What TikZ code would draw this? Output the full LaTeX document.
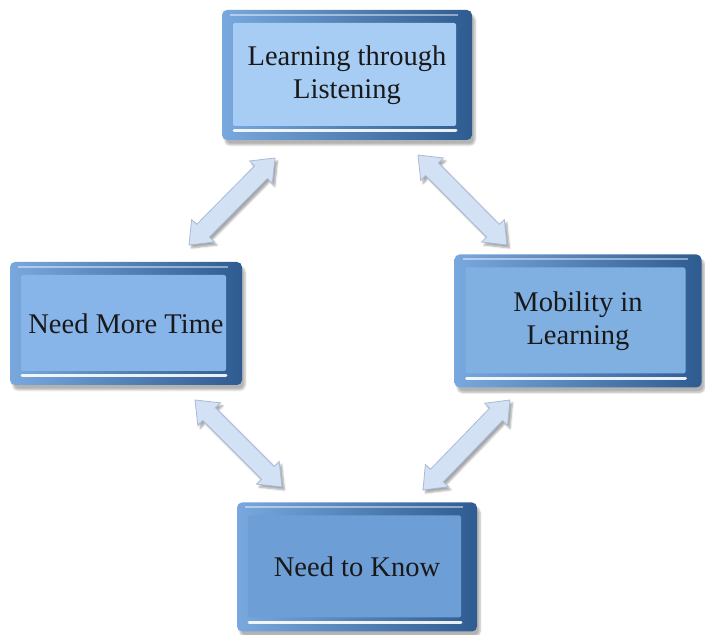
\documentclass[tikz,border=0pt]{standalone}
\usepackage{fontspec}
\setmainfont{Liberation Serif}
\usetikzlibrary{calc,shadows.blur}

\definecolor{edgeL}{HTML}{78A8DE}
\definecolor{edgeR}{HTML}{2F5C90}
\definecolor{faceA}{HTML}{A8CDF4}
\definecolor{faceB}{HTML}{88B5E9}
\definecolor{faceC}{HTML}{80AFE2}
\definecolor{faceD}{HTML}{6E9ED6}
\definecolor{arrowFill}{HTML}{D3E1F4}
\definecolor{arrowLine}{HTML}{A8BAD6}

\tikzset{
  bevelbox/.style={
    rounded corners=5pt, inner sep=0pt, align=center,
    font=\fontsize{28.5}{33}\selectfont, text=black!90,
    left color=edgeL, right color=edgeR,
    blur shadow={shadow xshift=3pt, shadow yshift=-5pt, shadow blur steps=6, shadow opacity=30},
    path picture={
      % raised face of the box
      \fill[#1, rounded corners=2pt]
        ([shift={(11pt,-13pt)}]path picture bounding box.north west) rectangle
        ([shift={(-16pt,14pt)}]path picture bounding box.south east);
      % light rim along the top edge
      \draw[white, opacity=0.45, line width=2pt]
        ([shift={(8pt,-5pt)}]path picture bounding box.north west) --
        ([shift={(-14pt,-5pt)}]path picture bounding box.north east);
      % bright highlight along the lower bevel
      \draw[white, opacity=0.9, line width=3pt, line cap=round]
        ([shift={(12pt,9pt)}]path picture bounding box.south west) --
        ([shift={(-16pt,9pt)}]path picture bounding box.south east);
    }
  },
  arrowbody/.style={
    fill=arrowFill, draw=arrowLine, line width=0.8pt, line join=miter,
    blur shadow={shadow xshift=2.5pt, shadow yshift=-3pt, shadow blur steps=5, shadow opacity=35}
  }
}

% double-headed block arrow between two named points
\newcommand{\blockarrow}[2]{%
  \coordinate (ba1) at ($(#1)!20pt!(#2)$);
  \coordinate (ba2) at ($(#2)!20pt!(#1)$);
  \path[arrowbody] (#1)
    -- ($(ba1)!16pt!90:(#2)$) -- ($(ba1)!9pt!90:(#2)$)
    -- ($(ba2)!9pt!-90:(#1)$) -- ($(ba2)!16pt!-90:(#1)$)
    -- (#2)
    -- ($(ba2)!16pt!90:(#1)$) -- ($(ba2)!9pt!90:(#1)$)
    -- ($(ba1)!9pt!-90:(#2)$) -- ($(ba1)!16pt!-90:(#2)$)
    -- cycle;}

\begin{document}
\begin{tikzpicture}[x=1pt,y=1pt]
  \useasboundingbox (0,0) rectangle (705,635);

  \node[bevelbox=faceA, minimum width=250pt, minimum height=130pt] (listen) at (347,560)
    {Learning through\\Listening};
  \node[bevelbox=faceB, minimum width=232pt, minimum height=123pt] (time) at (126,311.5)
    {Need More Time};
  \node[bevelbox=faceC, minimum width=247pt, minimum height=133pt] (mobile) at (578,314)
    {Mobility in\\Learning};
  \node[bevelbox=faceD, minimum width=240pt, minimum height=129pt] (know) at (357,68)
    {Need to Know};

  % arrow ends in the gaps between the boxes
  \coordinate (listenL) at (275,477);
  \coordinate (timeT)   at (189,390);
  \coordinate (listenR) at (418,480);
  \coordinate (mobileT) at (507,390);
  \coordinate (timeB)   at (195,235);
  \coordinate (knowL)   at (282,148);
  \coordinate (mobileB) at (510,235);
  \coordinate (knowR)   at (423,145);

  \blockarrow{listenL}{timeT}
  \blockarrow{listenR}{mobileT}
  \blockarrow{timeB}{knowL}
  \blockarrow{mobileB}{knowR}
\end{tikzpicture}
\end{document}
